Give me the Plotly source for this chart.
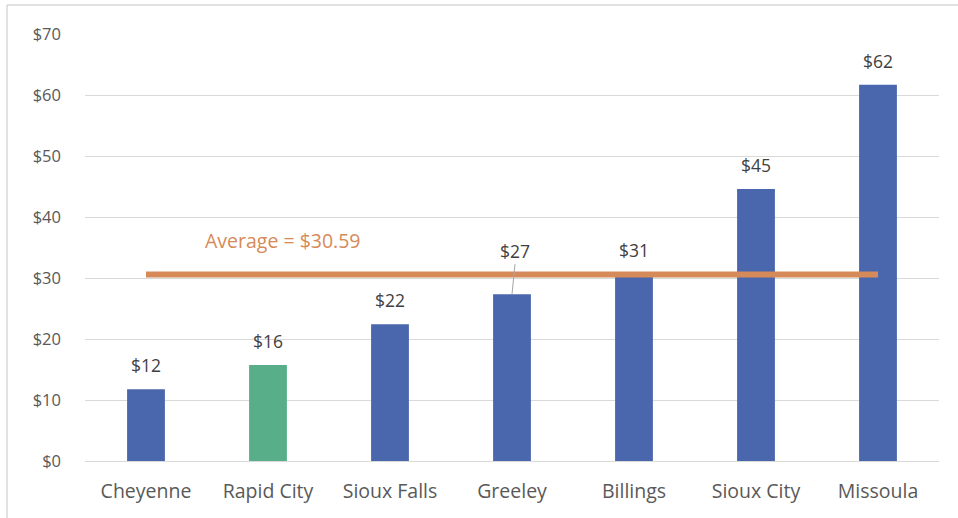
import plotly.graph_objects as go

# Data
cities = ["Cheyenne", "Rapid City", "Sioux Falls", "Greeley", "Billings", "Sioux City", "Missoula"]
costs = [11.75, 15.75, 22.4, 27.35, 30.6, 44.6, 61.68]
highlight_city = "Rapid City"
y_ticks = [0, 10, 20, 30, 40, 50, 60, 70]
y_tick_labels = ["$" + str(v) for v in y_ticks]

average = round(sum(costs) / len(costs), 2)

BLUE = "#4A66AC"
GREEN = "#57AE88"
ORANGE = "#D68A59"
FONT = "Open Sans"

W, H = 958, 518
L, R, T, B = 85, 19, 34, 57
plot_w = W - L - R
plot_h = H - T - B

bar_colors = [GREEN if c == highlight_city else BLUE for c in cities]

fig = go.Figure()
fig.add_trace(go.Bar(
    x=cities, y=costs, width=0.31,
    marker=dict(color=bar_colors, line=dict(width=0)),
    hoverinfo="x+y", showlegend=False,
))
fig.add_trace(go.Scatter(
    x=cities, y=[average] * len(cities), mode="lines",
    line=dict(color=ORANGE, width=6), hoverinfo="skip", showlegend=False,
))

label_font = dict(family=FONT, size=17.5, color="#404040")
annotations = []
for c, v in zip(cities, costs):
    label = "$" + str(int(round(v)))
    if c == "Greeley":
        annotations.append(dict(
            x=c, y=v, text=label, showarrow=True, arrowhead=0, arrowwidth=1,
            arrowcolor="#A6A6A6", ax=3, ay=-30, yanchor="bottom",
            font=label_font, borderpad=0,
        ))
    else:
        annotations.append(dict(
            x=c, y=v, text=label, showarrow=False, yshift=24, font=label_font,
        ))

annotations.append(dict(
    x=1.12, y=36.1, xref="x", yref="y", text=f"Average = ${average:.2f}",
    showarrow=False, font=dict(family=FONT, size=19.5, color=ORANGE),
))

# Chart frame (top and left edges)
px = lambda p: (p - L) / plot_w
py = lambda p: (H - B - p) / plot_h
shapes = [
    dict(type="line", xref="paper", yref="paper", x0=px(7), x1=px(W), y0=py(5), y1=py(5),
         line=dict(color="#D9D9D9", width=1.5)),
    dict(type="line", xref="paper", yref="paper", x0=px(7), x1=px(7), y0=py(5), y1=py(H),
         line=dict(color="#D9D9D9", width=1.5)),
]

fig.update_layout(
    width=W, height=H,
    margin=dict(l=L, r=R, t=T, b=B),
    paper_bgcolor="white", plot_bgcolor="white",
    annotations=annotations,
    shapes=shapes,
    xaxis=dict(
        showgrid=False, showline=False, ticks="",
        tickfont=dict(family=FONT, size=19.5, color="#595959"),
        ticklabelstandoff=16,
        range=[-0.5, len(cities) - 0.5],
    ),
    yaxis=dict(
        range=[0, 70], tickvals=y_ticks, ticktext=y_tick_labels,
        showgrid=True, gridcolor="#D9D9D9", gridwidth=1,
        zeroline=True, zerolinecolor="#D9D9D9", zerolinewidth=1,
        showline=False, ticks="", ticklabelstandoff=23,
        tickfont=dict(family=FONT, size=16.5, color="#595959"),
    ),
)

fig.write_html("out.html")
